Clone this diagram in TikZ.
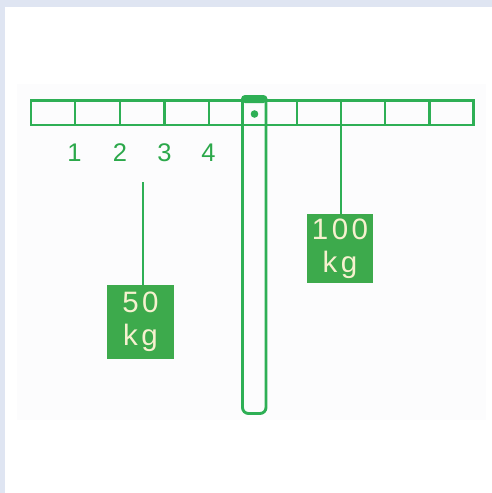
\documentclass[tikz,border=0pt]{standalone}
\usepackage{fontspec}
\setmainfont{Liberation Sans}
\definecolor{bgblue}{HTML}{DFE5F2}
\definecolor{panel}{HTML}{FCFCFD}
\definecolor{gline}{HTML}{2EAF55}
\definecolor{gbox}{HTML}{3DAA4C}
\definecolor{cream}{HTML}{F6F1CF}
\definecolor{gtext}{HTML}{2BA84A}
\begin{document}
\begin{tikzpicture}[x=1pt,y=-1pt,
  ln/.style={draw=gline,line width=2.9pt},
  num/.style={text=gtext,font=\fontsize{25.5}{25}\selectfont,inner sep=0pt},
  weight/.style={fill=gbox,draw=none,text=cream,inner sep=0pt,align=center,
    font=\fontsize{29.5}{33}\selectfont\addfontfeature{LetterSpace=12}}]
\useasboundingbox (0,0) rectangle (492,493);
\fill[bgblue] (0,0) rectangle (492,493);
\fill[white] (5,7) rectangle (492,493);
\fill[panel] (17,84) rectangle (486,420);
% post
\draw[ln,rounded corners=6pt] (242.5,100) -- (242.5,413.5) -- (266,413.5) -- (266,100);
\fill[gline,rounded corners=4pt] (241,95) rectangle (267.5,103);
% bar
\draw[ln] (31,100.5) rectangle (473.5,125);
\foreach \x in {75,120,164.5,209,297,341,385,429.5}
  \draw[ln] (\x,100.5) -- (\x,125);
\fill[gline] (254.5,114) circle (3.8pt);
% labels
\node[num] (n1) at (74.5,153) {1};
\node[num] (n2) at (120,153) {2};
\node[num] (n3) at (164.5,153) {3};
\node[num] (n4) at (208.5,153) {4};
% weights
\node[weight,minimum width=67pt,minimum height=74pt] (w50) at (140.5,322) {50\\kg};
\node[weight,minimum width=66pt,minimum height=69pt] (w100) at (340,248.5) {100\\kg};
\coordinate (h50) at (143,182);
\coordinate (h100) at (341,125);
\draw[ln] (h50) -- (h50 |- w50.north);
\draw[ln] (h100) -- (h100 |- w100.north);
\end{tikzpicture}
\end{document}
